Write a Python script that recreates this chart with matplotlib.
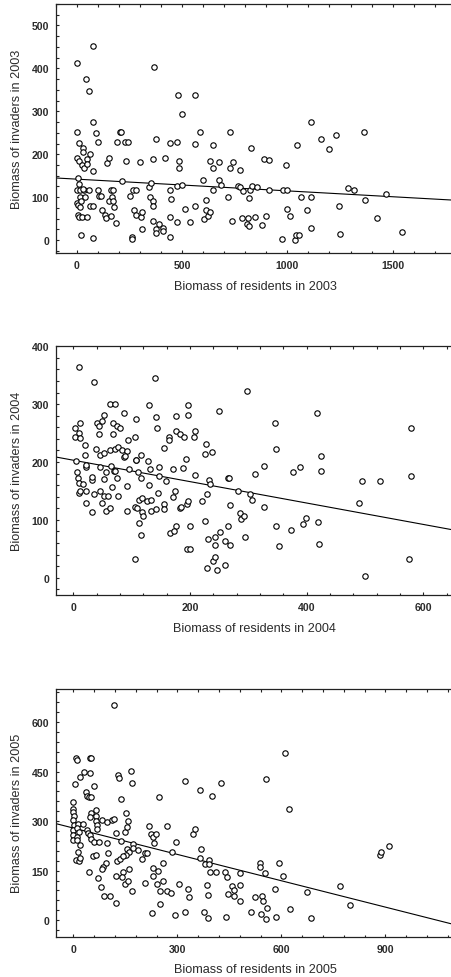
import matplotlib
matplotlib.use("Agg")
import matplotlib.pyplot as plt
from matplotlib.ticker import MultipleLocator
import numpy as np

plt.rcParams['font.family'] = ['Liberation Sans', 'DejaVu Sans']

# ---------------- data ----------------
res_2003 = [0,76,44,59,76,2,90,8,100,29,29,63,2,8,46,24,35,48,76,5,11,0,16,35,59,13,40,0,6,16,62,76,21,5,11,24,48,17,76,
            100,103,114,121,132,138,151,160,171,165,169,178,162,187,141,154,189,206,211,214,230,240,233,254,265,278,273,281,262,262,
            297,303,311,310,344,352,348,362,360,360,376,374,390,411,411,365,375,362,416,444,475,440,448,444,444,479,498,487,487,473,
            500,476,513,536,563,584,563,563,597,611,611,602,622,633,630,648,648,644,673,683,676,719,725,727,740,737,773,767,776,790,
            784,806,817,814,817,821,830,857,844,827,879,889,914,914,898,975,979,1000,992,998,1013,1035,1043,1056,1044,1065,1094,1111,
            1114,1114,1160,1198,1232,1246,1249,1286,1316,1363,1371,1424,1468,1546,27]
inv_2003 = [413,453,376,348,274,252,249,227,229,215,205,201,191,184,189,174,169,177,161,145,131,116,117,117,116,100,101,86,82,78,79,80,91,58,53,55,54,12,5,
            117,103,103,70,58,52,91,117,116,101,91,76,56,40,180,191,229,252,252,137,229,229,184,102,116,116,70,58,8,3,
            182,54,65,26,123,134,101,91,79,44,26,16,37,28,21,404,235,190,191,227,229,117,96,53,7,338,293,184,168,125,
            129,43,73,42,338,252,223,80,141,94,71,49,57,65,184,167,221,116,141,129,183,101,167,252,181,45,163,126,124,114,
            51,37,33,51,97,116,125,123,53,214,36,189,187,116,57,3,116,117,174,72,57,0,11,13,222,100,70,101,
            29,274,236,212,244,80,15,121,117,252,94,52,107,18,120]

res_2004 = [10,36,139,298,62,71,129,197,250,417,579,346,87,53,12,41,49,67,74,79,142,176,197,2,10,2,12,44,44,67,143,176,183,189,164,164,106,94,208,207,
            19,38,20,45,52,63,72,76,83,91,86,89,108,115,155,4,6,8,9,10,12,16,21,21,21,31,32,21,31,36,45,45,53,53,60,56,65,69,72,66,74,76,49,56,63,
            91,91,95,106,107,111,112,109,116,118,118,119,113,115,106,127,131,130,126,133,133,141,145,147,147,158,155,155,165,171,170,174,175,173,
            183,185,188,193,194,196,195,199,200,209,220,225,227,226,237,229,233,234,231,229,239,242,243,243,246,251,259,260,265,267,268,265,268,
            282,285,288,293,294,303,306,311,327,327,347,348,352,373,377,388,394,399,420,421,424,425,490,494,500,526,576,579,107]
inv_2004 = [364,338,345,323,301,301,299,298,288,284,259,268,284,282,268,268,271,268,263,258,278,279,281,258,250,243,241,249,262,249,259,253,249,243,243,238,244,238,254,243,
            229,222,212,212,215,221,222,226,220,219,208,211,204,212,224,202,182,173,164,147,150,162,149,191,194,169,174,129,114,144,149,191,171,142,142,182,193,184,185,157,173,142,129,116,121,
            158,116,188,122,203,183,135,121,172,138,114,106,95,73,33,202,188,161,133,134,116,118,147,192,176,167,127,118,78,187,140,150,89,81,
            120,123,190,205,128,132,50,50,89,178,133,98,231,214,217,144,169,162,66,16,29,36,56,70,13,79,64,22,173,173,125,89,57,
            149,111,102,107,70,144,134,179,193,122,222,90,55,82,183,192,92,103,96,58,185,210,129,167,3,167,33,176,275]

res_2005 = [118,9,11,48,51,20,31,49,6,60,37,40,45,52,129,133,165,168,138,
            0,0,0,1,0,1,0,0,0,
            14,28,12,17,40,42,47,50,11,12,18,13,8,17,20,44,51,64,47,64,65,68,67,60,57,64,84,98,95,87,83,72,79,89,106,122,122,112,117,124,151,159,148,154,138,97,100,
            156,160,171,172,152,125,134,143,162,142,148,159,170,140,187,198,207,217,223,229,237,232,269,248,296,285,212,208,229,231,243,258,251,242,249,258,269,282,
            227,294,322,305,331,335,345,350,367,366,380,391,392,395,412,385,389,378,389,437,443,439,323,366,401,426,447,458,462,462,480,480,480,512,525,
            539,539,545,548,554,560,541,555,585,583,592,604,626,610,555,622,673,686,768,797,885,887,910,75]
inv_2005 = [653,490,485,490,490,435,450,447,411,405,388,377,374,372,441,431,452,415,367,
            358,338,328,315,303,287,272,257,242,
            290,290,278,268,272,265,257,247,252,244,227,205,182,178,187,145,324,334,312,315,299,287,277,237,195,197,302,297,172,160,154,127,100,72,72,53,134,304,305,263,324,299,267,281,239,234,202,
            217,207,231,218,197,180,184,193,155,147,109,120,88,132,214,184,203,285,262,252,261,233,285,373,236,207,204,114,157,133,149,172,49,111,88,120,88,83,
            21,17,26,111,94,71,261,276,217,187,171,181,170,146,147,108,77,24,7,147,130,11,421,393,376,414,80,103,91,74,144,106,57,25,69,
            173,162,73,57,143,37,20,3,10,93,173,133,35,507,428,336,85,8,104,46,197,207,226,238]

# fitted regression lines (intercept, slope)
fit_2003 = [142, -0.0273]
fit_2004 = [203, -0.185]
fit_2005 = [279, -0.266]

panels = [
    dict(x=res_2003, y=inv_2003, fit=fit_2003, year="2003",
         xlim=(-100, 1800), ylim=(-30, 550),
         xmaj=500, xmin=100, ymaj=100, ymin=25,
         pos=(56, 5, 455.7, 254)),
    dict(x=res_2004, y=inv_2004, fit=fit_2004, year="2004",
         xlim=(-30, 650), ylim=(-30, 400),
         xmaj=200, xmin=40, ymaj=100, ymin=20,
         pos=(56, 347.3, 452.5, 596)),
    dict(x=res_2005, y=inv_2005, fit=fit_2005, year="2005",
         xlim=(-50, 1100), ylim=(-50, 700),
         xmaj=300, xmin=60, ymaj=150, ymin=30,
         pos=(56, 690, 454.7, 937.7)),
]

W, H = 451, 978
fig = plt.figure(figsize=(W / 100, H / 100), dpi=100)
fig.patch.set_facecolor('white')

txt = '#2b2b2b'
for p in panels:
    l, t, r, b = p['pos']
    ax = fig.add_axes([l / W, 1 - b / H, (r - l) / W, (b - t) / H])
    ax.set_xlim(*p['xlim'])
    ax.set_ylim(*p['ylim'])
    ax.plot(p['x'], p['y'], 'o', ms=3.9, mfc='white', mec='black', mew=0.8, zorder=3)
    xs = np.array(p['xlim'])
    ax.plot(xs, p['fit'][0] + p['fit'][1] * xs, color='black', lw=0.8, zorder=2)
    ax.xaxis.set_major_locator(MultipleLocator(p['xmaj']))
    ax.xaxis.set_minor_locator(MultipleLocator(p['xmin']))
    ax.yaxis.set_major_locator(MultipleLocator(p['ymaj']))
    ax.yaxis.set_minor_locator(MultipleLocator(p['ymin']))
    ax.tick_params(which='both', direction='in', top=True, right=False, color='#222222', width=0.8)
    ax.tick_params(which='major', length=2.5, pad=5, labelsize=7.6, labelcolor=txt)
    ax.tick_params(which='minor', length=1.8)
    for lab in ax.get_xticklabels() + ax.get_yticklabels():
        lab.set_fontweight('bold')
    for s in ['left', 'bottom', 'top']:
        ax.spines[s].set_color('#222222')
        ax.spines[s].set_linewidth(0.9)
    ax.spines['right'].set_visible(False)
    ax.set_xlabel(f"Biomass of residents in {p['year']}", fontsize=9.1, color=txt, labelpad=7)
    ax.set_ylabel(f"Biomass of invaders in {p['year']}", fontsize=9.1, color=txt, labelpad=6)

fig.savefig('out.png', dpi=100)
